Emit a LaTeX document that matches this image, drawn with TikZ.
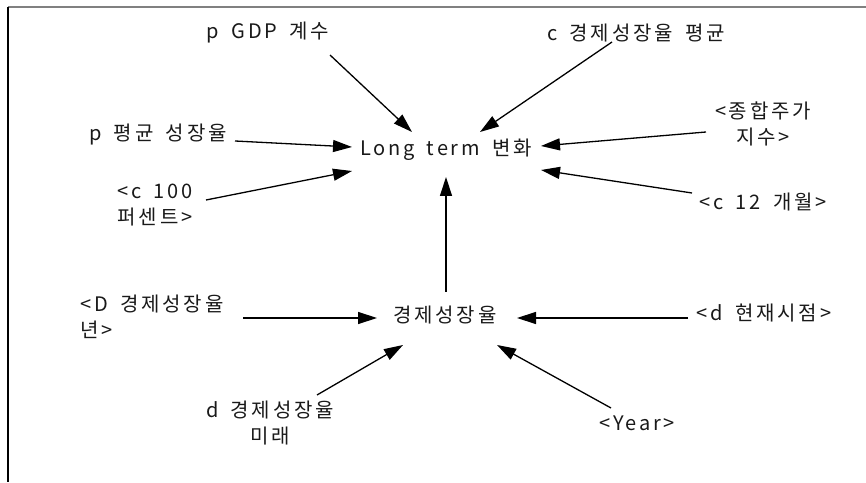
\documentclass[tikz,border=0pt]{standalone}
\usepackage{fontspec}
\setmainfont[LetterSpace=14,WordSpace=1.7]{Noto Sans CJK KR}
\usetikzlibrary{arrows.meta}
\begin{document}
\begin{tikzpicture}[x=1pt,y=1pt,
  lbl/.style={inner sep=0pt, font=\fontsize{20}{26}\selectfont, text=black!90},
  conn/.style={line width=1.3pt, -{Triangle[length=19pt,width=12pt]}}]
\useasboundingbox (0,0) rectangle (866,482);
% frame
\draw[line width=2pt, draw=black!50] (8,475) -- (866,475);
\draw[line width=1.5pt] (8,475) -- (8,0);
% nodes
\node[lbl] (gdp) at (268,449) {p GDP 계수};
\node[lbl] (cavg) at (636,449) {c 경제성장율 평균};
\node[lbl] (pavg) at (158,347) {p 평균 성장율};
\node[lbl] (lt) at (446,332) {Long term 변화};
\node[lbl, align=center] (c100) at (155,277) {<c 100\\퍼센트>};
\node[lbl, align=center] (stock) at (763,358) {<종합주가\\지수>};
\node[lbl] (c12) at (763,280) {<c 12 개월>};
\node[lbl, align=left, anchor=west] (dyear) at (80,165.5) {<D 경제성장율\\년>};
\node[lbl] (gr) at (445,167) {경제성장율};
\node[lbl] (now) at (764,169) {<d 현재시점>};
\node[lbl, align=center] (dfut) at (270,59) {d 경제성장율\\미래};
\node[lbl] (year) at (637,59) {<Year>};
% connectors
\draw[conn] ([shift={(62,-22)}]gdp.center) -- ([shift={(-34,18)}]lt.center);
\draw[conn] ([shift={(-24,-9)}]cavg.center) -- ([shift={(34,18)}]lt.center);
\draw[conn] ([shift={(77,-6)}]pavg.center) -- ([shift={(-94,3)}]lt.center);
\draw[conn] ([shift={(51,5)}]c100.center) -- ([shift={(-94,-21)}]lt.center);
\draw[conn] ([shift={(-57,-8)}]stock.center) -- ([shift={(95,4)}]lt.center);
\draw[conn] ([shift={(-71,9)}]c12.center) -- ([shift={(95,-20)}]lt.center);
\draw[conn] ([shift={(1,23)}]gr.center) -- ([shift={(0,-27)}]lt.center);
\draw[conn] ([shift={(163,-1.5)}]dyear.west) -- ([shift={(-68,-3)}]gr.center);
\draw[conn] ([shift={(-76,-5)}]now.center) -- ([shift={(72,-3)}]gr.center);
\draw[conn] ([shift={(47,28)}]dfut.center) -- ([shift={(-42,-30)}]gr.center);
\draw[conn] ([shift={(-26,15)}]year.center) -- ([shift={(52,-30)}]gr.center);
\end{tikzpicture}
\end{document}
